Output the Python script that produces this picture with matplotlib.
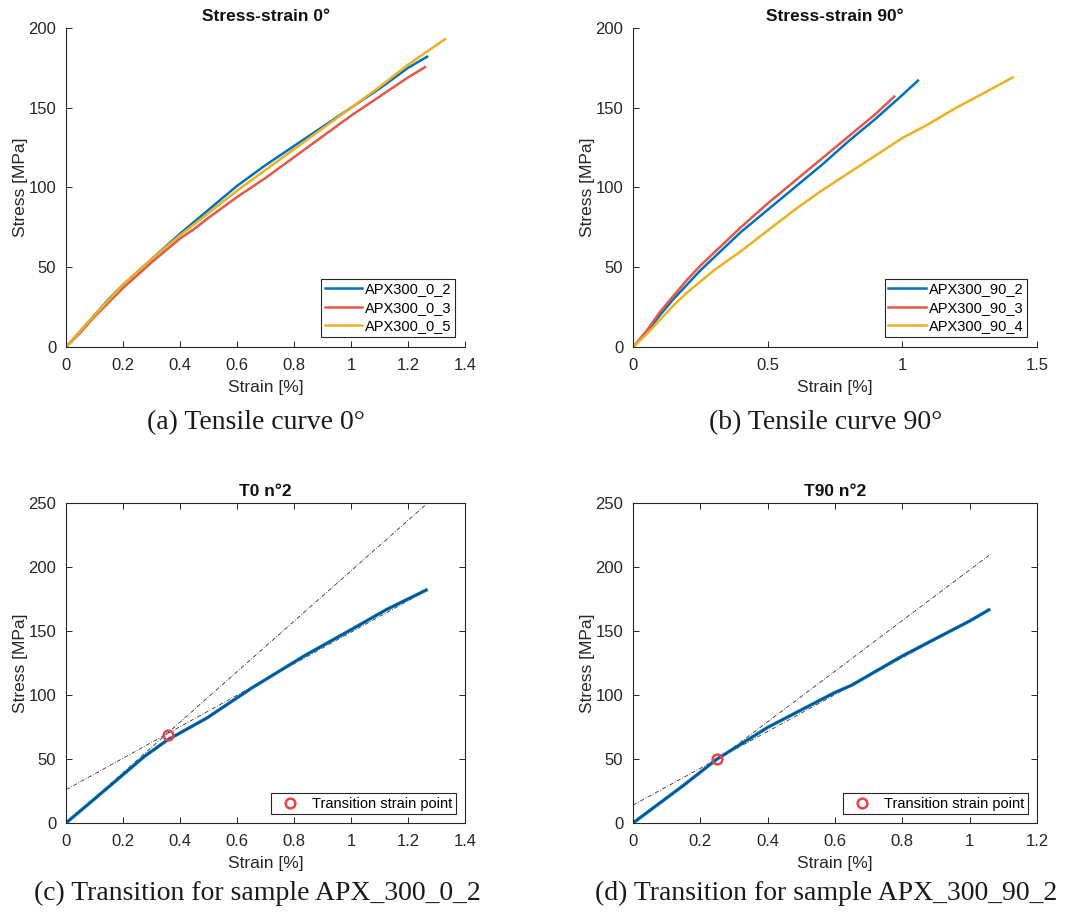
import matplotlib
matplotlib.use("Agg")
import matplotlib.pyplot as plt
from matplotlib.ticker import FormatStrFormatter

plt.rcParams['font.family'] = ['Liberation Sans', 'DejaVu Sans']

# Stress-strain 0 deg (strain %, stress MPa)
e0_2 = [0, 0.05, 0.1, 0.15, 0.2, 0.3, 0.4, 0.5, 0.6, 0.7, 0.8, 0.9, 1.0, 1.1, 1.2, 1.267]
s0_2 = [0, 10, 20, 30, 39, 55, 71, 86, 101, 114, 126, 138, 150, 162, 175, 182]
e0_3 = [0, 0.05, 0.1, 0.15, 0.2, 0.3, 0.4, 0.45, 0.5, 0.6, 0.7, 0.8, 0.9, 1.0, 1.1, 1.2, 1.26]
s0_3 = [0, 9, 19, 28, 37, 53, 68, 74, 81, 94, 106, 119, 132, 145, 157, 169, 175.5]
e0_5 = [0, 0.1, 0.2, 0.3, 0.4, 0.5, 0.6, 0.7, 0.8, 0.9, 1.0, 1.1, 1.2, 1.33]
s0_5 = [0, 20, 39, 55, 70, 84, 98, 111, 124, 137, 150, 163, 177, 193]

# Stress-strain 90 deg
e90_2 = [0, 0.05, 0.1, 0.15, 0.2, 0.25, 0.3, 0.4, 0.5, 0.6, 0.7, 0.8, 0.9, 1.0, 1.058]
s90_2 = [0, 9, 20, 30, 39, 48, 56, 72, 86, 100, 114, 129, 143, 158, 167]
e90_3 = [0, 0.05, 0.1, 0.15, 0.2, 0.25, 0.3, 0.4, 0.5, 0.6, 0.7, 0.8, 0.9, 0.97]
s90_3 = [0, 10, 22, 32, 42, 51, 59, 75, 90, 104, 118, 132, 146, 157]
e90_4 = [0, 0.05, 0.1, 0.15, 0.2, 0.25, 0.3, 0.4, 0.5, 0.6, 0.7, 0.8, 0.9, 1.0, 1.1, 1.2, 1.3, 1.41]
s90_4 = [0, 8, 17, 26, 34, 41, 48, 60, 73, 86, 98, 109, 120, 131, 140, 150, 159, 169]

# Transition plots: curve, two fitted lines, transition point
t0_e = [0, 0.152, 0.275, 0.357, 0.494, 0.652, 0.837, 1.0, 1.124, 1.264]
t0_s = [0, 28.6, 52, 65, 82, 105.5, 130.7, 151, 166.7, 182]
t0_fit1_e, t0_fit1_s = [0, 1.264], [0, 249]
t0_fit2_e, t0_fit2_s = [0, 1.264], [26, 181.5]
t0_pt = (0.357, 69)

t90_e = [0, 0.149, 0.25, 0.4, 0.6, 0.65, 0.8, 1.0, 1.057]
t90_s = [0, 29.2, 50, 74.7, 102, 107.7, 130.5, 157.8, 166.5]
t90_fit1_e, t90_fit1_s = [0, 1.057], [0, 209]
t90_fit2_e, t90_fit2_s = [0, 1.057], [14, 166]
t90_pt = (0.25, 50)

blue, red, yellow = '#0072BD', '#E4574A', '#EDB120'
axcol = '#262626'

fig = plt.figure(figsize=(10.75, 9.22), dpi=100)
W, H = 1075, 922


def make_ax(l, t, r, b):
    return fig.add_axes([l / W, 1 - b / H, (r - l) / W, (b - t) / H])


def style(ax, box):
    for sp in ax.spines.values():
        sp.set_color(axcol)
        sp.set_linewidth(0.8)
    if not box:
        ax.spines['top'].set_visible(False)
        ax.spines['right'].set_visible(False)
    ax.tick_params(direction='in', length=4, width=0.7, colors=axcol,
                   labelsize=12, top=box, right=box, pad=8)
    ax.tick_params(axis='y', pad=7)
    ax.xaxis.set_major_formatter(FormatStrFormatter('%g'))
    ax.set_xlabel('Strain [%]', fontsize=12.5, color=axcol, labelpad=5)
    ax.set_ylabel('Stress [MPa]', fontsize=12.5, color=axcol, labelpad=0.5)


ax1 = make_ax(66, 28, 465, 347)
ax2 = make_ax(633, 28, 1037, 347)
ax3 = make_ax(66, 503, 465, 823)
ax4 = make_ax(633, 503, 1037, 823)

for ax, curves, xmax, xt, title in [
    (ax1, [(e0_2, s0_2, 'APX300_0_2'), (e0_3, s0_3, 'APX300_0_3'), (e0_5, s0_5, 'APX300_0_5')],
     1.4, [0, 0.2, 0.4, 0.6, 0.8, 1.0, 1.2, 1.4], 'Stress-strain 0°'),
    (ax2, [(e90_2, s90_2, 'APX300_90_2'), (e90_3, s90_3, 'APX300_90_3'), (e90_4, s90_4, 'APX300_90_4')],
     1.5, [0, 0.5, 1.0, 1.5], 'Stress-strain 90°'),
]:
    for (e, s, lab), c in zip(curves, [blue, red, yellow]):
        ax.plot(e, s, color=c, lw=1.8, label=lab)
    ax.set_xlim(0, xmax)
    ax.set_ylim(0, 200)
    ax.set_xticks(xt)
    ax.set_yticks([0, 50, 100, 150, 200])
    style(ax, False)
    ax.set_title(title, fontsize=12.5, fontweight='bold', color='#111111', pad=5)
    leg = ax.legend(loc='lower right', fontsize=10.5, frameon=True, fancybox=False,
                    edgecolor=axcol, framealpha=1, handlelength=2.6,
                    handletextpad=0.15, labelspacing=0.3, borderpad=0.25,
                    borderaxespad=0.7)
    leg.get_frame().set_linewidth(0.8)

for ax, e, s, f1, f2, pt, xmax, xt, title in [
    (ax3, t0_e, t0_s, (t0_fit1_e, t0_fit1_s), (t0_fit2_e, t0_fit2_s), t0_pt,
     1.4, [0, 0.2, 0.4, 0.6, 0.8, 1.0, 1.2, 1.4], 'T0 n°2'),
    (ax4, t90_e, t90_s, (t90_fit1_e, t90_fit1_s), (t90_fit2_e, t90_fit2_s), t90_pt,
     1.2, [0, 0.2, 0.4, 0.6, 0.8, 1.0, 1.2], 'T90 n°2'),
]:
    for fe, fs in (f1, f2):
        ax.plot(fe, fs, color='#333333', lw=0.6, ls=(0, (5, 2, 1, 2)))
    ax.plot(e, s, color=blue, lw=2.4)
    ax.plot(e, s, color='#0d3b63', lw=0.6)
    ax.plot([pt[0]], [pt[1]], 'o', mfc='none', mec='#E8434A', mew=1.8, ms=7,
            ls='none', label='Transition strain point')
    ax.set_xlim(0, xmax)
    ax.set_ylim(0, 250)
    ax.set_xticks(xt)
    ax.set_yticks([0, 50, 100, 150, 200, 250])
    style(ax, True)
    ax.set_title(title, fontsize=12.5, fontweight='bold', color='#111111', pad=5)
    leg = ax.legend(loc='lower right', fontsize=10.5, frameon=True, fancybox=False,
                    edgecolor=axcol, framealpha=1, handlelength=2.2,
                    handletextpad=0.4, borderpad=0.25, borderaxespad=0.6)
    leg.get_frame().set_linewidth(0.8)

captions = [
    (256, 423, '(a) Tensile curve 0°'),
    (826, 423, '(b) Tensile curve 90°'),
    (257, 893, '(c) Transition for sample APX_300_0_2'),
    (826, 893, '(d) Transition for sample APX_300_90_2'),
]
for x, y, txt in captions:
    fig.text(x / W, 1 - y / H, txt, ha='center', va='center', fontsize=20,
             family=['Liberation Serif', 'DejaVu Serif'], color='#1a1a1a')

fig.savefig('out.png', dpi=100)
